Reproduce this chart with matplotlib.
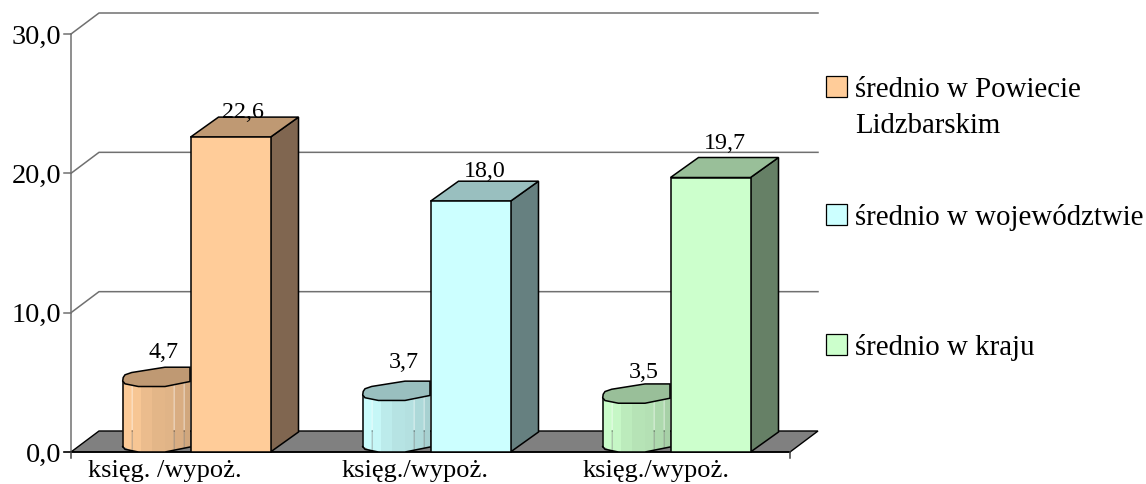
import matplotlib
matplotlib.use("Agg")
import matplotlib.pyplot as plt
from matplotlib.colors import to_rgb
from matplotlib.patches import Polygon, Rectangle
import numpy as np

W, H = 1146, 484

# ---------------- DATA ---------------- #

categories = ["księg. /wypoż.", "księg./wypoż.", "księg./wypoż."]
series = ["średnio w Powiecie\nLidzbarskim", "średnio w województwie", "średnio w kraju"]
ksieg = [4.7, 3.7, 3.5]
wypoz = [22.6, 18.0, 19.7]
yticks = [0, 10, 20, 30]

colors = ["#FFCC99", "#CCFFFF", "#CCFFCC"]
tops = ["#BF9973", "#99BFBF", "#99BF99"]
sides = ["#806650", "#668080", "#668066"]

# ---------------- AXES ---------------- #

plt.rcParams["font.family"] = ["Liberation Serif", "DejaVu Serif"]
fig = plt.figure(figsize=(W / 100, H / 100), dpi=100)
left, right, y0, y30 = 71, 790, 452, 34
ax = fig.add_axes([left / W, 1 - y0 / H, (right - left) / W, (y0 - y30) / H])
ax.set_xlim(left, right)   # x in pixels, y in data units
ax.set_ylim(0, 30)
ax.axis("off")

uy = 30 / (y0 - y30)       # value units per pixel
wall_dx, wall_dy = 28, 21 * uy
dx, dy = 28, 20 * uy       # depth of the bars


def poly(pts, fc, ec="black", lw=1.1, z=2):
    ax.add_patch(Polygon(pts, closed=True, fc=fc, ec=ec, lw=lw, zorder=z, clip_on=False))


def comma(n):
    return f"{n:.1f}".replace(".", ",")


# ---------------- WALLS ---------------- #

for t in yticks[1:]:
    ax.plot([left, left + wall_dx, right + wall_dx], [t, t + wall_dy, t + wall_dy], color="#707070", lw=1.1,
            clip_on=False, zorder=1)
    ax.plot([left - 7, left], [t, t], color="#707070", lw=1.1, clip_on=False, zorder=1)
ax.plot([left, left], [0, 30], color="#707070", lw=1.1, zorder=1, clip_on=False)
for t in yticks:
    ax.text(left - 10, t, comma(t), ha="right", va="center_baseline", fontsize=20.3, color="black")

poly([(left, 0), (left + wall_dx, wall_dy), (right + wall_dx, wall_dy), (right, 0)], "#808080", lw=1.0, z=1.5)
ax.plot([left - 7, right], [0, 0], color="black", lw=1.2, clip_on=False, zorder=2)
for xt in [left, right]:
    ax.plot([xt, xt], [0, -6 * uy], color="#404040", lw=1.1, clip_on=False, zorder=2)

# ---------------- BARS ---------------- #

slot = 240
bar_w = 80
# cylinder outline: px from its left edge, px above the value (or above the floor)
front_x = [0, 2.3, 15.7, 42.3, 67.3]
front_q = [5.5, 2.7, 0, 0, 5]
back_x = [67.3, 42.3, 9, 2.3, 0.5]
back_q = [19.3, 19.3, 14, 11.7, 9]
strips = [0, 9.7, 18.3, 29, 42.3, 51.7, 61.7, 67.3]
strip_fade = [0.99, 0.97, 0.92, 0.89, 0.88, 0.85, 0.82]
seams = [0, 4, 5]   # strips that leave a thin gap on their right

kl_x = [164, 404, 644]
wl_x = [243, 485, 725]
kl_y = [358, 368, 378]
wl_y = [118, 177, 149]
cat_x = [165, 415, 656]


def fade(c, f):
    r, g, b = to_rgb(c)
    return (r * f, g * f, b * f)


for i in range(3):
    xb = left + 119.5 + i * slot
    xc = left + 51.7 + i * slot
    c = colors[i]
    v = ksieg[i]

    # short series: faceted cylinder
    for k in range(len(strips) - 1):
        a = strips[k]
        b = strips[k + 1] - (0.6 if k in seams else 0)
        qa, qb = np.interp([a, b], front_x, front_q) * uy
        ax.add_patch(Polygon([(xc + a, qa), (xc + b, qb), (xc + b, v + qb), (xc + a, v + qa)], closed=True,
                             fc=fade(c, strip_fade[k]), ec="none", zorder=3))
    fx = [xc + p for p in front_x]
    fy = [q * uy for q in front_q]
    ax.plot(fx, fy, color="black", lw=1.1, zorder=4)
    ax.plot([xc, xc], [fy[0], v + fy[0]], color="black", lw=1.1, zorder=4)
    poly([(xc + p, v + q * uy) for p, q in zip(front_x, front_q)]
         + [(xc + p, v + q * uy) for p, q in zip(back_x, back_q)], tops[i], z=4)

    # tall series: box
    h = wypoz[i]
    poly([(xb + bar_w, 0), (xb + bar_w + dx, dy), (xb + bar_w + dx, h + dy), (xb + bar_w, h)], sides[i], z=5)
    poly([(xb, h), (xb + dx, h + dy), (xb + bar_w + dx, h + dy), (xb + bar_w, h)], tops[i], z=5)
    poly([(xb, 0), (xb + bar_w, 0), (xb + bar_w, h), (xb, h)], c, z=6)

    ax.text(kl_x[i], (y0 - kl_y[i]) * uy, comma(ksieg[i]), ha="center", va="baseline", fontsize=17.3, zorder=7)
    ax.text(wl_x[i], (y0 - wl_y[i]) * uy, comma(wypoz[i]), ha="center", va="baseline", fontsize=17.3, zorder=7)
    ax.text(cat_x[i], -(477 - y0) * uy, categories[i], ha="center", va="baseline", fontsize=19)

# ---------------- LEGEND ---------------- #

swatch_y = [76, 204, 334]
text_y = [97, 225, 355]
for i in range(3):
    fig.patches.append(Rectangle((826 / W, 1 - (swatch_y[i] + 21) / H), 21 / W, 21 / H, fc=colors[i], ec="black",
                                 lw=0.9, transform=fig.transFigure))
    for j, line in enumerate(series[i].split("\n")):
        fig.text(855 / W, 1 - (text_y[i] + j * 36) / H, line, ha="left", va="baseline", fontsize=20.8)

fig.savefig("out.png", dpi=100)
